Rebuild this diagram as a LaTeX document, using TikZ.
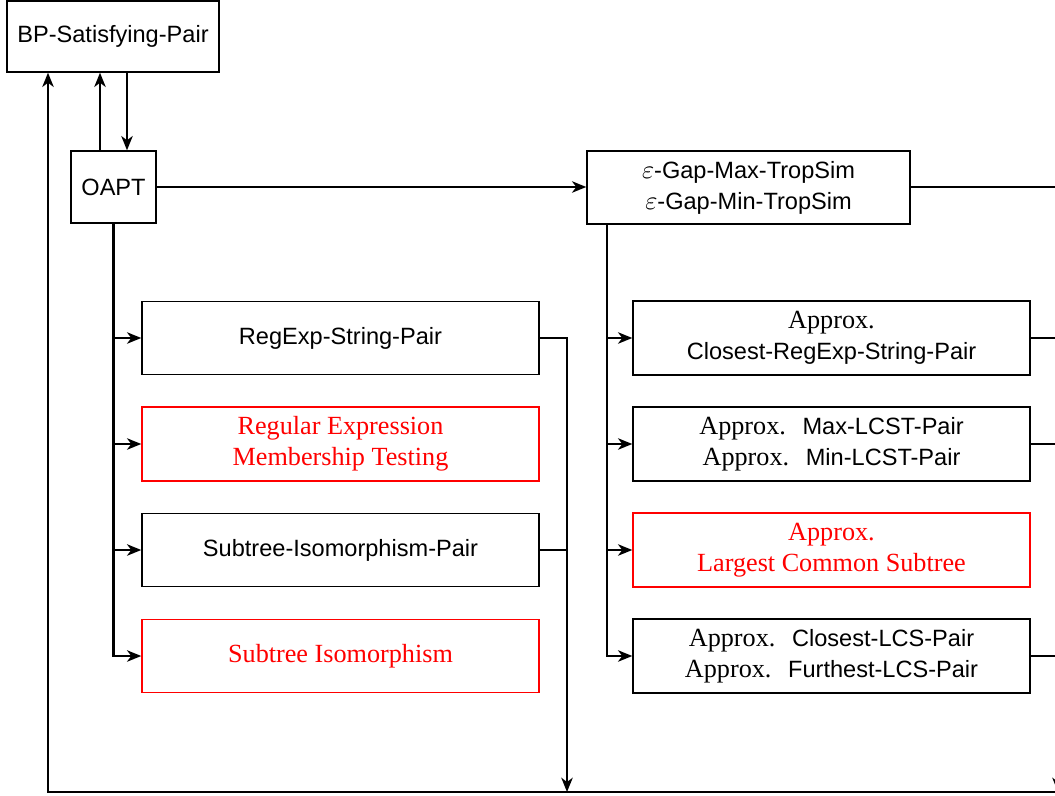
\documentclass[tikz,border=0pt]{standalone}
\usepackage{fontspec}
\setmainfont{Liberation Serif}
\setsansfont{Liberation Sans}[Scale=0.9]
\usetikzlibrary{arrows.meta}
\def\ppx{0.42pt}
\newcommand\apx{Approx.\hspace{7pt}}
\begin{document}
\begin{tikzpicture}[x=0.42pt,y=-0.42pt,
  box/.style={draw, line width=0.6pt, inner sep=0pt, align=center,
    font=\fontsize{11}{13}\selectfont},
  redbox/.style={box, draw=red, text=red},
  conn/.style={line width=0.95pt},
  arr/.style={conn, -{Stealth[length=6pt,width=4.8pt,inset=1.8pt]}},
]
\useasboundingbox (0,0) rectangle (1055,795);
% nodes
\node[box, minimum width=212*\ppx, minimum height=71*\ppx] (bp) at (113,36.5) {\textsf{BP-Satisfying-Pair}};
\node[box, minimum width=85*\ppx, minimum height=72*\ppx] (oapt) at (113.5,187) {\textsf{OAPT}};
\node[box, minimum width=323*\ppx, minimum height=73*\ppx] (trop) at (748.5,187.5)
  {$\varepsilon$\textsf{-Gap-Max-TropSim}\\$\varepsilon$\textsf{-Gap-Min-TropSim}};
\node[box, minimum width=397*\ppx, minimum height=73*\ppx] (L1) at (340.5,338) {\textsf{RegExp-String-Pair}};
\node[redbox, minimum width=397*\ppx, minimum height=74*\ppx] (L2) at (340.5,444) {Regular Expression\\Membership Testing};
\node[box, minimum width=397*\ppx, minimum height=73*\ppx] (L3) at (340.5,550) {\textsf{Subtree-Isomorphism-Pair}};
\node[redbox, minimum width=397*\ppx, minimum height=73*\ppx] (L4) at (340.5,656) {Subtree Isomorphism};
\node[box, minimum width=397*\ppx, minimum height=74*\ppx] (R1) at (831.5,338) {Approx.\\\textsf{Closest-RegExp-String-Pair}};
\node[box, minimum width=397*\ppx, minimum height=74*\ppx] (R2) at (831.5,444) {\apx\textsf{Max-LCST-Pair}\\\apx\textsf{Min-LCST-Pair}};
\node[redbox, minimum width=397*\ppx, minimum height=74*\ppx] (R3) at (831.5,550) {Approx.\\Largest Common Subtree};
\node[box, minimum width=397*\ppx, minimum height=74*\ppx] (R4) at (831.5,656) {\apx\textsf{Closest-LCS-Pair}\\\apx\textsf{Furthest-LCS-Pair}};
% helper coordinates
\coordinate (cA) at (127,0);
\coordinate (cB) at (100,0);
\coordinate (cC) at (48,0);
\coordinate (rs) at (607,0);
\coordinate (lc) at (567,792);
\coordinate (rc) at (1058,792);
\coordinate (bend) at (1120,792);
\coordinate (tropout) at (1120,187);
% connectors
\draw[arr] (bp.south -| cA) -- (oapt.north -| cA);
\draw[arr] (oapt.north -| cB) -- (bp.south -| cB);
\draw[arr] (oapt.east) -- (trop.west |- oapt.east);
\draw[conn] (trop.east |- tropout) -- (tropout);
% left spine
\draw[arr] (oapt.south) -- (oapt.south |- L4.west) -- (L4.west);
\foreach \n in {L1,L2,L3} \draw[arr] (oapt.south |- \n.west) -- (\n.west);
% right spine
\draw[arr] (trop.south -| rs) -- (rs |- R4.west) -- (R4.west);
\foreach \n in {R1,R2,R3} \draw[arr] (rs |- \n.west) -- (\n.west);
% collectors
\draw[arr] (L1.east) -- (L1.east -| lc) -- (lc);
\draw[conn] (L3.east) -- (L3.east -| lc);
\draw[arr] (R1.east) -- (R1.east -| rc) -- (rc);
\draw[conn] (R2.east) -- (R2.east -| rc);
\draw[conn] (R4.east) -- (R4.east -| rc);
% bottom return
\draw[arr] (bend) -- (cC |- bend) -- (bp.south -| cC);
\end{tikzpicture}
\end{document}
